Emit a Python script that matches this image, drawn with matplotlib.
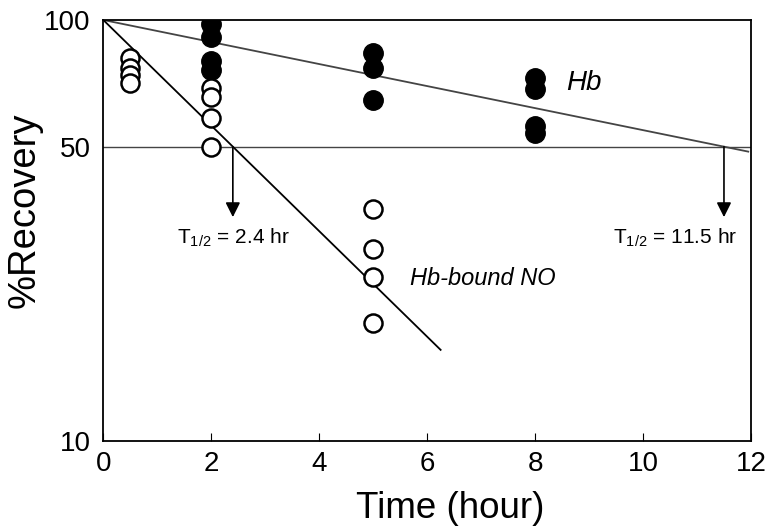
import matplotlib.pyplot as plt
import numpy as np

plt.rcParams['mathtext.fontset'] = 'custom'
plt.rcParams['mathtext.rm'] = 'Liberation Sans'
plt.rcParams['mathtext.it'] = 'Liberation Sans:italic'

# Hb (filled circles)
hb_time = [2, 2, 2, 2, 5, 5, 5, 8, 8, 8, 8]
hb_recovery = [98, 91, 80, 76, 83.5, 77, 64.5, 73, 68.5, 56, 54]

# Hb-bound NO (open circles)
no_time = [0.5, 0.5, 0.5, 0.5, 2, 2, 2, 2, 5, 5, 5, 5]
no_recovery = [81, 77, 74, 71, 69, 65.5, 58.5, 50, 35.5, 28.5, 24.5, 19]

# half-lives for the fitted lines
t_half_hb = 11.5
t_half_no = 2.4

fig, ax = plt.subplots(figsize=(7.71, 5.26), dpi=100)

# fitted decay lines
t_hb = np.array([0, 11.95])
ax.plot(t_hb, 100 * 0.5 ** (t_hb / t_half_hb), color='#444444', lw=1.3, zorder=2)
t_no = np.array([0, 6.25])
ax.plot(t_no, 100 * 0.5 ** (t_no / t_half_no), color='black', lw=1.3, zorder=2)

# 50% line
ax.axhline(50, color='#444444', lw=1.0, zorder=1)

ax.plot(hb_time, hb_recovery, 'o', ms=14, mfc='black', mec='black', zorder=3)
ax.plot(no_time, no_recovery, 'o', ms=13, mfc='white', mec='black', mew=1.8, zorder=3)

# arrows at the half-life points
for th in [t_half_no, t_half_hb]:
    ax.annotate('', xy=(th, 34), xytext=(th, 50),
                arrowprops=dict(arrowstyle='-|>', color='black', lw=1.2,
                                mutation_scale=22, shrinkA=0, shrinkB=0))

ax.text(2.4, 30.3, r'T$_{1/2}$ = 2.4 hr', ha='center', va='center', fontsize=15,
        family='Liberation Sans')
ax.text(10.6, 30.3, r'T$_{1/2}$ = 11.5 hr', ha='center', va='center', fontsize=15,
        family='Liberation Sans')
ax.text(8.58, 71, 'Hb', style='italic', fontsize=20, va='center',
        family='Liberation Sans')
ax.text(5.68, 24.3, 'Hb-bound NO', style='italic', fontsize=17, va='center',
        family='Liberation Sans')

ax.set_yscale('log')
ax.set_xlim(0, 12)
ax.set_ylim(10, 100)
ax.set_yticks([10, 50, 100])
ax.set_yticklabels(['10', '50', '100'])
ax.yaxis.set_minor_locator(plt.NullLocator())
ax.tick_params(axis='y', length=0, labelsize=20, pad=9)
ax.set_xticks([0, 2, 4, 6, 8, 10, 12])
ax.tick_params(axis='x', direction='in', length=6, labelsize=20, pad=7, top=False)
for lab in ax.get_xticklabels() + ax.get_yticklabels():
    lab.set_family('Liberation Sans')

ax.set_xlabel('Time (hour)', fontsize=26.5, family='Liberation Sans')
ax.set_ylabel('%Recovery', fontsize=27.5, family='Liberation Sans')
ax.xaxis.set_label_coords(0.535, -0.12)
ax.yaxis.set_label_coords(-0.094, 0.549)

for s in ax.spines.values():
    s.set_linewidth(1.3)

fig.subplots_adjust(left=0.134, right=0.974, top=0.962, bottom=0.162)
plt.savefig('out.png', dpi=100)
